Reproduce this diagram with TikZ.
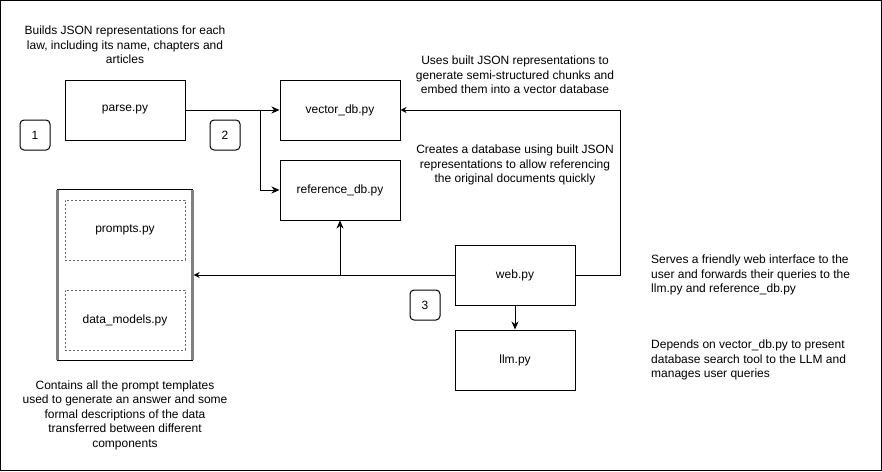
\documentclass[tikz,border=0pt]{standalone}
\usepackage{fontspec}
\setmainfont{Liberation Sans}
\usetikzlibrary{arrows.meta}
\begin{document}
\begin{tikzpicture}[x={(1pt,0)},y={(0,-1pt)},
  box/.style={draw,line width=1pt,minimum width=120pt,minimum height=60pt,inner sep=0pt,font=\fontsize{12}{14}\selectfont},
  dbox/.style={draw=black!60,line width=0.7pt,dash pattern=on 2pt off 2pt,minimum width=120pt,minimum height=60pt,inner sep=0pt,font=\fontsize{12}{14}\selectfont},
  numbox/.style={draw,line width=1pt,rounded corners=4pt,minimum width=30pt,minimum height=30pt,inner sep=0pt,font=\fontsize{12}{14}\selectfont},
  note/.style={align=center,inner sep=0pt,font=\fontsize{12}{14.5}\selectfont},
  lnote/.style={align=left,inner sep=0pt,anchor=west,font=\fontsize{12}{14.5}\selectfont},
  conn/.style={line width=1pt,-{Stealth[length=8pt,width=7pt,inset=2.5pt]}},
  sconn/.style={line width=1pt,-{Stealth[length=6pt,width=6pt,inset=2pt]}}]
\useasboundingbox (0,0) rectangle (882,471);
\draw[line width=1pt] (0.5,0.5) rectangle (881.5,470.5);
% boxes
\node[box] (parse) at (125,110) {parse.py};
\node[box] (vec) at (340,110) {vector\_db.py};
\node[box] (ref) at (340,190) {reference\_db.py};
\node[minimum width=135pt,minimum height=170pt,inner sep=0pt] (cont) at (125,275) {};
\draw[line width=1pt] (cont.north west) -- (cont.north east) (cont.south west) -- (cont.south east);
\draw[black!50,line width=2.5pt] (cont.north west) -- (cont.south west) (cont.north east) -- (cont.south east);
\node[dbox] (prompts) at (125,230) {prompts.py};
\node[dbox] (dm) at (125,320) {data\_models.py};
\node[box] (web) at (515,275) {web.py};
\node[box] (llm) at (515,360) {llm.py};
\node[numbox] (n1) at (35,135) {1};
\node[numbox] (n2) at (225,135) {2};
\node[numbox] (n3) at (425,305) {3};
% notes
\node[note] (t1) at (125,45) {Builds JSON representations for each\\law, including its name, chapters and\\articles};
\node[note] (t2) at (515,75) {Uses built JSON representations to\\generate semi-structured chunks and\\embed them into a vector database};
\node[note] (t3) at (515,165) {Creates a database using built JSON\\representations to allow referencing\\the original documents quickly};
\node[lnote] (t4) at (651,275) {Serves a friendly web interface to the\\user and forwards their queries to the\\llm.py and reference\_db.py};
\node[lnote] (t5) at (651,360) {Depends on vector\_db.py to present\\database search tool to the LLM and\\manages user queries};
\node[note] (t6) at (125,415) {Contains all the prompt templates\\used to generate an answer and some\\formal descriptions of the data\\transferred between different\\components};
% connectors
\coordinate (b1) at (260,110);
\coordinate (b2) at (340,275);
\draw[conn] (parse.east) -- (vec.west);
\draw[conn] (b1) |- (ref.west);
\draw[sconn] (web.east) -- ++(45,0) |- (vec.east);
\draw[sconn] (web.west) -- ([xshift=1pt]cont.east);
\draw[conn] (b2) -- (ref.south);
\draw[conn] (web.south) -- (llm.north);
\end{tikzpicture}
\end{document}
